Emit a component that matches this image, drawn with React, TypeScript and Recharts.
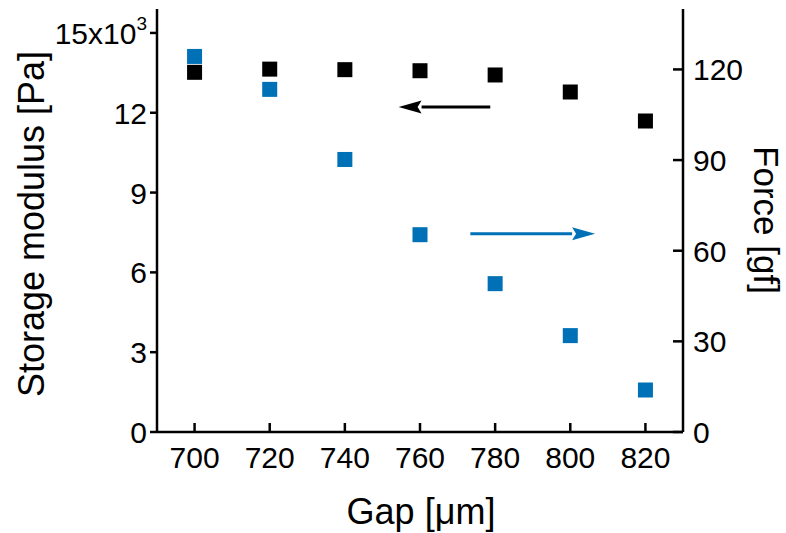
import React from "react";
import {
  ScatterChart,
  Scatter,
  XAxis,
  YAxis,
  ReferenceLine,
} from "recharts";

// gap in micrometres
const gaps = [700, 720, 740, 760, 780, 800, 820];
// storage modulus in 10^3 Pa
const modulus = [13.52, 13.64, 13.62, 13.58, 13.42, 12.78, 11.69];
// normal force in gf
const force = [124.3, 113.4, 90.2, 65.3, 49.1, 31.9, 13.9];

const gapTicks = [700, 720, 740, 760, 780, 800, 820];
const modulusTicks = [0, 3, 6, 9, 12, 15];
const forceTicks = [0, 30, 60, 90, 120];

// arrows pointing at the axis each series belongs to
const modulusArrow = { from: 778.7, to: 754.3, level: 12.22 };
const forceArrow = { from: 773.4, to: 806.6, level: 65.6 };

const rows = gaps.map((g, i) => ({ gap: g, modulus: modulus[i], force: force[i] }));

const BLUE = "#0071b6";
const FONT = "'Liberation Sans', Arial, sans-serif";
const TICK_FS = 30;
const LABEL_FS = 35;

const square = (color: string) => (props: any) => (
  <rect x={props.cx - 7.5} y={props.cy - 7.5} width={15} height={15} fill={color} />
);

const BottomTick = (props: any) => {
  const { x, y, payload } = props;
  return (
    <g>
      <line x1={x} y1={y} x2={x} y2={y - 9} stroke="#000" strokeWidth={2.5} />
      <text x={x} y={y + 36} textAnchor="middle" fontSize={TICK_FS} fontFamily={FONT} fill="#000">
        {payload.value}
      </text>
    </g>
  );
};

const TopTick = (props: any) => {
  const { x, y } = props;
  return <line x1={x} y1={y} x2={x} y2={y + 9} stroke="#000" strokeWidth={2.5} />;
};

const LeftTick = (props: any) => {
  const { x, y, payload } = props;
  return (
    <g>
      <line x1={x} y1={y} x2={x - 7} y2={y} stroke="#000" strokeWidth={2.5} />
      <text x={x - 10} y={y + 11} textAnchor="end" fontSize={TICK_FS} fontFamily={FONT} fill="#000">
        {payload.value === 15 ? (
          <>
            15x10
            <tspan dy={-14} fontSize={19}>3</tspan>
          </>
        ) : (
          payload.value
        )}
      </text>
    </g>
  );
};

const RightTick = (props: any) => {
  const { x, y, payload } = props;
  return (
    <g>
      <line x1={x} y1={y} x2={x - 10} y2={y} stroke="#000" strokeWidth={2.5} />
      <text x={x + 10} y={y + 11} textAnchor="start" fontSize={TICK_FS} fontFamily={FONT} fill="#000">
        {payload.value}
      </text>
    </g>
  );
};

const arrow = (color: string) => (props: any) => {
  const { x1, y1, x2, y2 } = props;
  const dir = x2 > x1 ? 1 : -1;
  const head = 23;
  const half = 6.5;
  const base = x2 - dir * head;
  return (
    <g>
      <line x1={x1} y1={y1} x2={base} y2={y2} stroke={color} strokeWidth={3} />
      <polygon points={`${x2},${y2} ${base},${y2 - half} ${base + dir * 4},${y2} ${base},${y2 + half}`} fill={color} />
    </g>
  );
};

const axisLine = { stroke: "#000", strokeWidth: 2.5 };

export default function App() {
  return (
    <div style={{ position: "absolute", left: 0, top: 0, background: "#fff" }}>
      <ScatterChart width={786} height={533} margin={{ top: 9, right: 0, bottom: 0, left: 0 }}>
        <XAxis
          xAxisId="bottom"
          dataKey="gap"
          type="number"
          domain={[690, 830]}
          ticks={gapTicks}
          allowDataOverflow
          height={101}
          tickSize={0}
          tickMargin={0}
          tickLine={false}
          axisLine={axisLine}
          tick={<BottomTick />}
          label={() => (
            <text x={421} y={524} textAnchor="middle" fontSize={LABEL_FS + 1} fontFamily={FONT} fill="#000">
              Gap [{"\u03bc"}m]
            </text>
          )}
        />
        <XAxis
          xAxisId="top"
          dataKey="gap"
          type="number"
          orientation="top"
          domain={[690, 830]}
          ticks={gapTicks}
          allowDataOverflow
          height={0}
          tickSize={0}
          tickMargin={0}
          tickLine={false}
          axisLine={axisLine}
          tick={<TopTick />}
        />
        <YAxis
          yAxisId="left"
          dataKey="modulus"
          type="number"
          domain={[0, 15.9]}
          ticks={modulusTicks}
          allowDataOverflow
          width={157}
          tickSize={0}
          tickMargin={0}
          tickLine={false}
          axisLine={axisLine}
          tick={<LeftTick />}
          label={() => (
            <text
              x={44}
              y={224}
              transform="rotate(-90, 44, 224)"
              textAnchor="middle"
              fontSize={LABEL_FS + 1}
              fontFamily={FONT}
              fill="#000"
            >
              Storage modulus [Pa]
            </text>
          )}
        />
        <YAxis
          yAxisId="right"
          dataKey="force"
          type="number"
          orientation="right"
          domain={[0, 140]}
          ticks={forceTicks}
          allowDataOverflow
          width={103}
          tickSize={0}
          tickMargin={0}
          tickLine={false}
          axisLine={axisLine}
          tick={<RightTick />}
          label={() => (
            <text
              x={754}
              y={220}
              transform="rotate(90, 754, 220)"
              textAnchor="middle"
              fontSize={LABEL_FS}
              fontFamily={FONT}
              fill="#000"
            >
              Force [gf]
            </text>
          )}
        />
        <Scatter
          data={rows}
          xAxisId="bottom"
          yAxisId="left"
          shape={square("#000")}
          isAnimationActive={false}
        />
        <Scatter
          data={rows}
          xAxisId="bottom"
          yAxisId="right"
          shape={square(BLUE)}
          isAnimationActive={false}
        />
        <ReferenceLine
          xAxisId="bottom"
          yAxisId="left"
          segment={[
            { x: modulusArrow.from, y: modulusArrow.level },
            { x: modulusArrow.to, y: modulusArrow.level },
          ]}
          shape={arrow("#000")}
        />
        <ReferenceLine
          xAxisId="bottom"
          yAxisId="right"
          segment={[
            { x: forceArrow.from, y: forceArrow.level },
            { x: forceArrow.to, y: forceArrow.level },
          ]}
          shape={arrow(BLUE)}
        />
      </ScatterChart>
    </div>
  );
}
